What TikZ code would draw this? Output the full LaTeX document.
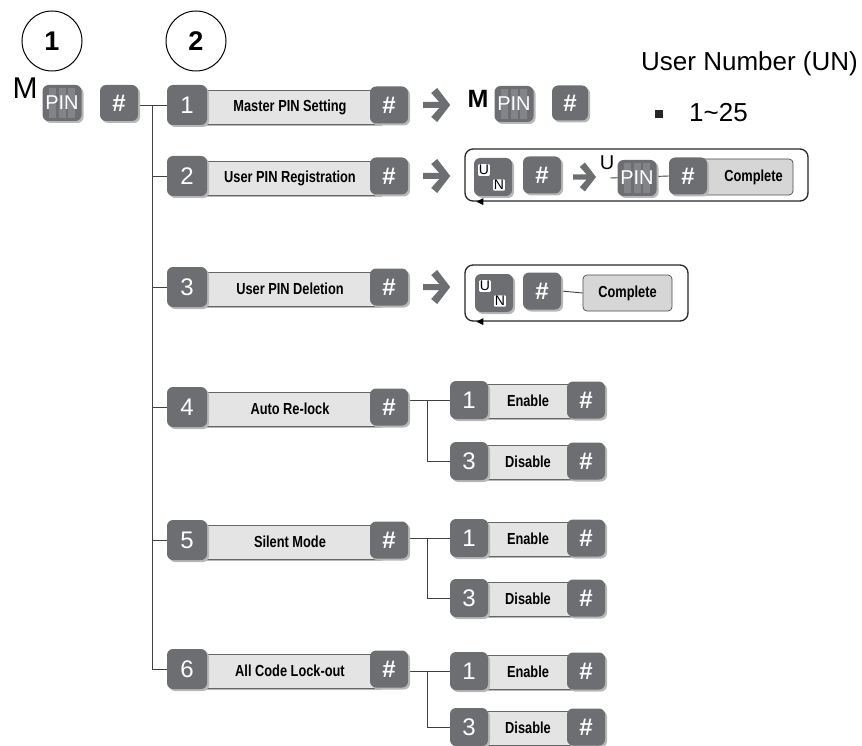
\documentclass[tikz,border=0pt]{standalone}
\usepackage{fontspec}
\setmainfont{Liberation Sans}
\newfontfamily\cond{Liberation Sans}[FakeStretch=0.8]
\usetikzlibrary{shadows,calc}
\definecolor{keygray}{HTML}{6D6E71}
\definecolor{keylight}{HTML}{838487}
\definecolor{barfill}{HTML}{E4E4E4}
\definecolor{compfill}{HTML}{D6D6D6}
\definecolor{shadowgray}{HTML}{B8B8B8}
\pgfdeclarelayer{bg}
\pgfsetlayers{bg,main}
\tikzset{
 keyshadow/.style={drop shadow={shadow xshift=2pt,shadow yshift=-2pt,fill=shadowgray,opacity=1}},
 key/.style={rectangle, rounded corners=6pt, fill=keygray, text=white, inner sep=0pt, keyshadow},
 numkey/.style={key, minimum width=40pt, minimum height=40pt, font=\fontsize{24}{24}\selectfont},
 hashkey/.style={key, minimum width=38pt, minimum height=37pt, font=\fontsize{24}{24}\selectfont\bfseries},
 bar/.style={rectangle, fill=barfill, draw=black!60, line width=0.6pt, minimum height=34pt, inner sep=0pt, font=\cond\bfseries\fontsize{16}{16}\selectfont, keyshadow},
 conn/.style={draw=black!75, line width=0.9pt},
 grp/.style={draw=black!85, line width=1.3pt, rounded corners=8pt, inner sep=0pt},
 comp/.style={rectangle, rounded corners=4pt, fill=compfill, draw=black!70, line width=0.7pt, inner sep=0pt, font=\cond\bfseries\fontsize{16}{16}\selectfont},
 circnum/.style={circle, draw, line width=1pt, minimum size=60pt, inner sep=0pt, font=\bfseries\fontsize{27}{27}\selectfont},
 bigtext/.style={font=\fontsize{26}{26}\selectfont, inner sep=0pt},
}
\newcommand\fatarrow[2]{\fill[keygray, shift={(#1)}, scale=#2] (0,-3) -- (16,-3) -- (8,-12) -- (14,-17) -- (27,0) -- (14,17) -- (8,12) -- (16,3) -- (0,3) -- cycle;}
\newcommand\pinkey[3]{%
 \node[key, minimum width=39pt, minimum height=36pt] (#1) at (#2,#3) {};
 \foreach \dx in {-13,-3.5,6}{\fill[keylight] ($(#1.center)+(\dx,-15)$) rectangle ++(7,30);}
 \node[text=white, font=\fontsize{20}{20}\selectfont, inner sep=0pt] (#1t) at (#1) {PIN};}
\newcommand\unkey[3]{%
 \node[key, minimum width=38pt, minimum height=38pt] (#1) at (#2,#3) {};
 \node[fill=white, rounded corners=1pt, inner sep=0.9pt, font=\fontsize{14}{14}\selectfont, text=black] (#1u) at ($(#1.center)+(-9,-7)$) {U};
 \node[fill=white, rounded corners=1pt, inner sep=0.9pt, font=\fontsize{14}{14}\selectfont, text=black] (#1n) at ($(#1.center)+(6,8)$) {N};}
\newcommand\mainrow[4]{%
 \node[bar, minimum width=180pt] (b#1) at (290,#2+2) {#4};
 \node[numkey] (n#1) at (187,#2) {#3};
 \node[hashkey] (h#1) at (389,#2) {\#};}
\newcommand\subrow[4]{%
 \node[bar, minimum width=94pt] (sb#1) at (528,#2+1) {#4};
 \node[numkey, minimum width=38pt, minimum height=38pt] (s#1) at (469,#2) {#3};
 \node[hashkey] (sh#1) at (586,#2) {\#};}
\begin{document}
\begin{tikzpicture}[x=1pt,y=-1pt]
\useasboundingbox (0,0) rectangle (862,746);
% headers
\node[circnum] (c1) at (52,41) {1};
\node[circnum] (c2) at (196,41) {2};
\node[font=\fontsize{30}{30}\selectfont, inner sep=0pt] (mL) at (25,88) {M};
\pinkey{pL}{62}{103}
\node[hashkey, minimum height=36pt] (h0) at (119,103) {\#};
% main rows
\mainrow{1}{105}{1}{Master PIN Setting}
\mainrow{2}{176}{2}{User PIN Registration}
\mainrow{3}{287}{3}{User PIN Deletion}
\mainrow{4}{407}{4}{Auto Re-lock}
\mainrow{5}{540}{5}{Silent Mode}
\mainrow{6}{669}{6}{All Code Lock-out}
% sub rows
\subrow{4a}{400}{1}{Enable}
\subrow{4b}{461}{3}{Disable}
\subrow{5a}{538}{1}{Enable}
\subrow{5b}{598}{3}{Disable}
\subrow{6a}{671}{1}{Enable}
\subrow{6b}{727}{3}{Disable}
% row 1 result
\fatarrow{$(h1.east)+(15,0)$}{1}
\node[font=\bfseries\fontsize{25}{25}\selectfont, inner sep=0pt] (mR) at (478,99) {M};
\pinkey{pR}{514}{104}
\node[hashkey, minimum width=36pt, minimum height=35pt] (hR) at (570,103) {\#};
% row 2 group
\fatarrow{$(h2.east)+(15,0)$}{1}
\node[grp, minimum width=343pt, minimum height=52pt] (g2) at (636.5,175) {};
\fill[black] ($(g2.south west)+(12,0)$) -- ++(7,-3.5) -- ++(0,7) -- cycle;
\unkey{u2}{493}{177}
\node[hashkey] (h2a) at (542,175) {\#};
\fatarrow{573,177}{0.85}
\node[font=\fontsize{20}{20}\selectfont, inner sep=0pt] (U2) at (607,163) {U};
\node[comp, minimum width=93pt, minimum height=36pt] (cp2) at (746.5,177) {\hspace*{14pt}Complete};
\pinkey{p2}{637}{178}
\node[hashkey] (h2b) at (688,176) {\#};
% row 3 group
\fatarrow{$(h3.east)+(15,0)$}{1}
\node[grp, minimum width=223pt, minimum height=56pt] (g3) at (576.5,293) {};
\fill[black] ($(g3.south west)+(12,0)$) -- ++(7,-3.5) -- ++(0,7) -- cycle;
\unkey{u3}{494}{293}
\node[hashkey] (h3a) at (542,291) {\#};
\node[comp, minimum width=89pt, minimum height=36pt] (cp3) at (627.5,293) {Complete};
% legend
\node[bigtext, anchor=west] (un) at (641,64) {User Number (UN)};
\node[fill=black!85, minimum size=8pt, inner sep=0pt] (bul) at (659,114) {};
\node[bigtext, anchor=west] (range) at (689,113) {1\textasciitilde 25};
% connectors
\begin{pgfonlayer}{bg}
\coordinate (tk) at ($(n1.west)+(-14,0)$);
\draw[conn] (h0.east |- n1.west) -- (n1.west);
\draw[conn] (tk) |- (n6.west);
\foreach \i in {2,3,4,5} {\draw[conn] (tk |- n\i.west) -- (n\i.west);}
\draw[conn] (h4.east |- s4a.west) -- (s4a.west);
\draw[conn] ($(s4a.west)+(-22,0)$) |- (s4b.west);
\draw[conn] (h5.east |- s5a.west) -- (s5a.west);
\draw[conn] ($(s5a.west)+(-22,0)$) |- (s5b.west);
\draw[conn] (h6.east |- s6a.west) -- (s6a.west);
\draw[conn] ($(s6a.west)+(-22,0)$) |- (s6b.west);
\draw[conn] ([xshift=-7pt]p2.west) -- (h2b.west);
\draw[conn] (h3a.east) -- (cp3.west);
\end{pgfonlayer}
\end{tikzpicture}
\end{document}
